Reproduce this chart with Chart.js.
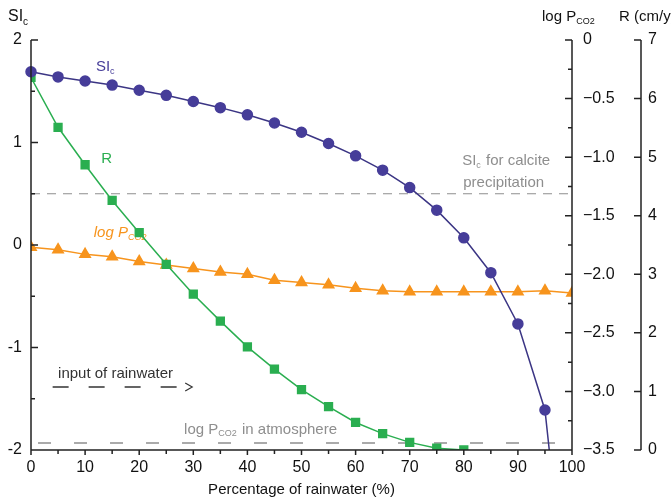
<!DOCTYPE html>
<html>
<head>
<meta charset="utf-8">
<script src="https://cdn.jsdelivr.net/npm/chart.js@4.4.1/dist/chart.umd.min.js"></script>
<style>
  html, body { margin: 0; padding: 0; background: #fff; }
</style>
</head>
<body>
<canvas id="chart" width="671" height="502"></canvas>
<script>
// percentage of rainwater in the mix
const rainPct = [0, 5, 10, 15, 20, 25, 30, 35, 40, 45, 50, 55, 60, 65, 70, 75, 80, 85, 90, 95, 100];
// saturation index of calcite (left axis)
const siValues = [1.69, 1.64, 1.60, 1.56, 1.51, 1.46, 1.40, 1.34, 1.27, 1.19, 1.10, 0.99, 0.87, 0.73, 0.56, 0.34, 0.07, -0.27, -0.77, -1.61, -4.05];
// dissolution rate R (cm/y), only up to 80 %
const rValues = [6.36, 5.51, 4.87, 4.26, 3.71, 3.17, 2.66, 2.20, 1.76, 1.38, 1.03, 0.74, 0.47, 0.28, 0.13, 0.03, 0.0];
// log PCO2
const logPValues = [-1.77, -1.79, -1.83, -1.85, -1.89, -1.92, -1.95, -1.98, -2.00, -2.05, -2.07, -2.09, -2.12, -2.14, -2.15, -2.15, -2.15, -2.15, -2.15, -2.14, -2.16];

const siCalcite = 0.5;       // SIc for calcite precipitation
const logPAtmosphere = -3.44; // log PCO2 in atmosphere

const FONT = "'Liberation Sans', Arial, sans-serif";
const PURPLE = "#463d99";
const GREEN = "#2aae50";
const ORANGE = "#f7941d";
const GREY = "#8e8e8e";
const AXIS = "#222";

const pts = (vals) => vals.map((v, i) => ({ x: rainPct[i], y: v }));

// text with subscripts: parts = [[text, isSub], ...]
function subText(ctx, x, y, parts, size, color, style) {
  ctx.fillStyle = color;
  ctx.textAlign = "left";
  ctx.textBaseline = "middle";
  parts.forEach(([t, sub]) => {
    ctx.font = (style || "") + " " + (sub ? Math.round(size * 0.6) : size) + "px " + FONT;
    ctx.fillText(t, x, sub ? y + size * 0.3 : y);
    x += ctx.measureText(t).width + (sub ? 1 : 0);
  });
}

const axesPlugin = {
  id: "axesPlugin",
  beforeDatasetsDraw(chart) {
    const { ctx, chartArea: a, scales } = chart;
    const xs = scales.x, ys = scales.y, yp = scales.yP;
    ctx.save();
    // reference lines
    ctx.strokeStyle = GREY;
    ctx.lineWidth = 1;
    ctx.setLineDash([9, 7]);
    let y = ys.getPixelForValue(siCalcite);
    ctx.beginPath(); ctx.moveTo(a.left, y); ctx.lineTo(a.right, y); ctx.stroke();
    ctx.lineWidth = 1.5;
    ctx.setLineDash([13, 23]);
    y = yp.getPixelForValue(logPAtmosphere);
    ctx.beginPath(); ctx.moveTo(xs.getPixelForValue(1.3), y); ctx.lineTo(a.right, y); ctx.stroke();

    // input of rainwater arrow
    ctx.strokeStyle = "#333";
    ctx.lineWidth = 1.6;
    ctx.setLineDash([16, 20]);
    y = ys.getPixelForValue(-1.385);
    const x0 = xs.getPixelForValue(4), x1 = xs.getPixelForValue(28.2);
    ctx.beginPath(); ctx.moveTo(x0, y); ctx.lineTo(x1, y); ctx.stroke();
    ctx.setLineDash([]);
    ctx.lineWidth = 1.2;
    const xa = xs.getPixelForValue(29.8);
    ctx.beginPath(); ctx.moveTo(xa - 7, y - 4); ctx.lineTo(xa, y); ctx.lineTo(xa - 7, y + 4); ctx.stroke();

    // labels
    subText(ctx, xs.getPixelForValue(5), ys.getPixelForValue(-1.26), [["input of rainwater", false]], 15, "#333");
    subText(ctx, xs.getPixelForValue(28.3), ys.getPixelForValue(-1.80),
      [["log P", false], ["CO2", true], [" in atmosphere", false]], 15, GREY);
    subText(ctx, xs.getPixelForValue(79.7), ys.getPixelForValue(0.82),
      [["SI", false], ["c", true], [" for calcite", false]], 15, GREY);
    subText(ctx, xs.getPixelForValue(79.9), ys.getPixelForValue(0.61), [["precipitation", false]], 15, GREY);
    subText(ctx, xs.getPixelForValue(12), ys.getPixelForValue(1.74), [["SI", false], ["c", true]], 15, PURPLE);
    subText(ctx, xs.getPixelForValue(13), ys.getPixelForValue(0.84), [["R", false]], 15, GREEN);
    subText(ctx, xs.getPixelForValue(11.6), ys.getPixelForValue(0.12), [["log P", false], ["CO2", true]], 15, ORANGE, "italic");
    ctx.restore();
  },
  afterDraw(chart) {
    const { ctx, chartArea: a, scales } = chart;
    const xs = scales.x, ys = scales.y, yp = scales.yP, yr = scales.yR;
    ctx.save();
    ctx.strokeStyle = AXIS;
    ctx.lineWidth = 1.5;
    ctx.beginPath();
    // left SI axis, ticks pointing inside
    ctx.moveTo(a.left, a.top); ctx.lineTo(a.left, a.bottom);
    for (let v = -2; v <= 2; v += 0.5) {
      const y = ys.getPixelForValue(v);
      ctx.moveTo(a.left, y); ctx.lineTo(a.left + (v % 1 === 0 ? 7 : 4), y);
    }
    // bottom axis, ticks pointing down
    ctx.moveTo(a.left, a.bottom); ctx.lineTo(a.right, a.bottom);
    for (let v = 0; v <= 100; v += 5) {
      const x = xs.getPixelForValue(v);
      ctx.moveTo(x, a.bottom); ctx.lineTo(x, a.bottom + (v % 10 === 0 ? 5 : 4));
    }
    // log PCO2 axis on the right edge
    ctx.moveTo(a.right, a.top); ctx.lineTo(a.right, a.bottom);
    for (let v = -3.5; v <= 0.001; v += 0.25) {
      const y = yp.getPixelForValue(v);
      ctx.moveTo(a.right, y); ctx.lineTo(a.right - (Math.abs(v * 2 % 1) < 0.01 ? 7 : 4), y);
    }
    // R axis
    const rx = yr.left + 9;
    ctx.moveTo(rx, a.top); ctx.lineTo(rx, a.bottom);
    for (let v = 0; v <= 7; v++) {
      const y = yr.getPixelForValue(v);
      ctx.moveTo(rx, y); ctx.lineTo(rx - 7, y);
    }
    ctx.stroke();

    // axis titles on top
    subText(ctx, a.left - 23, a.top - 23, [["SI", false], ["c", true]], 16, "#111");
    subText(ctx, a.right - 30, a.top - 23, [["log P", false], ["CO2", true]], 15, "#111");
    subText(ctx, yr.left - 13, a.top - 23, [["R (cm/y)", false]], 15, "#111");
    ctx.restore();
  }
};

const noGrid = { display: false, drawTicks: false };
const tickFont = { family: FONT, size: 16 };

new Chart(document.getElementById("chart"), {
  type: "line",
  data: {
    datasets: [
      {
        label: "SIc",
        data: pts(siValues),
        yAxisID: "y",
        borderColor: "#3b3584",
        backgroundColor: PURPLE,
        borderWidth: 1.5,
        pointStyle: "circle",
        pointRadius: siValues.map((v) => (v < -2 ? 0 : 5)),
        pointBorderColor: PURPLE,
        clip: { left: 10, right: 10, top: 10, bottom: 0 },
      },
      {
        label: "R",
        data: pts(rValues),
        yAxisID: "yR",
        borderColor: GREEN,
        backgroundColor: GREEN,
        borderWidth: 1.5,
        pointStyle: "rect",
        pointRadius: 5.5,
      },
      {
        label: "log PCO2",
        data: pts(logPValues),
        yAxisID: "yP",
        borderColor: ORANGE,
        backgroundColor: ORANGE,
        borderWidth: 1.5,
        pointStyle: "triangle",
        pointRadius: 6,
      },
    ],
  },
  options: {
    responsive: false,
    devicePixelRatio: 1,
    animation: false,
    layout: { padding: { top: 40 } },
    plugins: { legend: { display: false }, tooltip: { enabled: false } },
    scales: {
      x: {
        type: "linear",
        min: 0,
        max: 100,
        grid: noGrid,
        border: { display: false },
        ticks: { stepSize: 10, color: "#111", font: tickFont, padding: 8, maxRotation: 0 },
        title: { display: true, text: "Percentage of rainwater (%)", color: "#111", font: { family: FONT, size: 15 }, padding: { top: 0, bottom: 3 } },
        afterFit: (s) => { s.height = 52; },
      },
      y: {
        position: "left",
        min: -2,
        max: 2,
        grid: noGrid,
        border: { display: false },
        ticks: { stepSize: 1, color: "#111", font: tickFont, padding: 9 },
        afterFit: (s) => { s.width = 31; },
      },
      yP: {
        position: "right",
        min: -3.5,
        max: 0,
        grid: noGrid,
        border: { display: false },
        ticks: {
          stepSize: 0.5, color: "#111", font: tickFont, padding: 11,
          callback: (v) => (v === 0 ? "0" : "\u2212" + Math.abs(v).toFixed(1)),
        },
        afterFit: (s) => { s.width = 60; },
      },
      yR: {
        position: "right",
        min: 0,
        max: 7,
        grid: noGrid,
        border: { display: false },
        ticks: { stepSize: 1, color: "#111", font: tickFont, padding: 16 },
        afterFit: (s) => { s.width = 39; },
      },
    },
  },
  plugins: [axesPlugin],
});
</script>
</body>
</html>
